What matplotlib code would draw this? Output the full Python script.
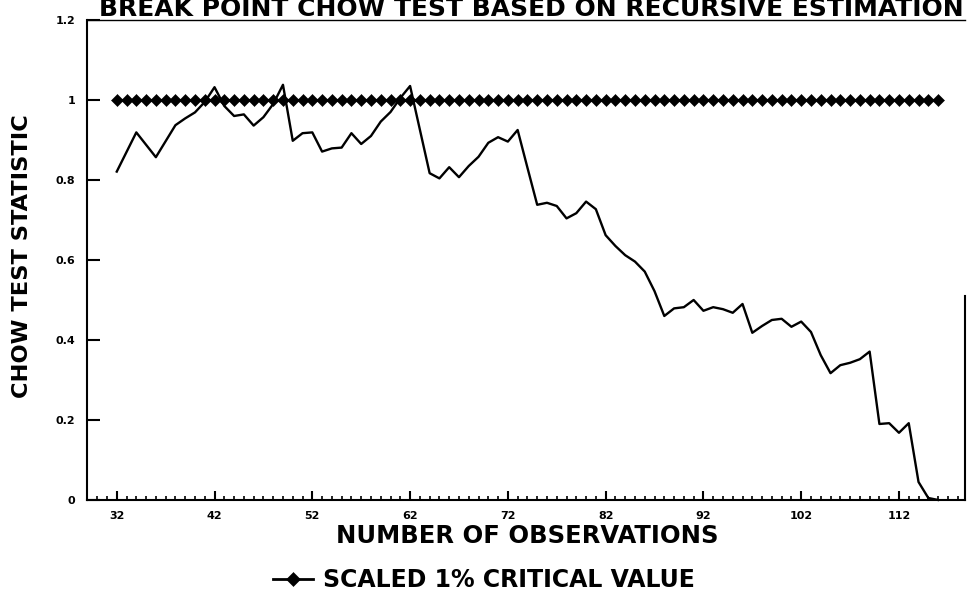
import numpy as np
import matplotlib
matplotlib.use("Agg")
import matplotlib.pyplot as plt
from matplotlib.ticker import MultipleLocator

# data
obs = np.arange(32, 117)
chow_stat = [
    0.821, 0.870, 0.919, 0.888, 0.857, 0.897, 0.937, 0.954, 0.969, 0.995,
    1.032, 0.985, 0.960, 0.964, 0.936, 0.957, 0.990, 1.038, 0.898, 0.917,
    0.919, 0.871, 0.879, 0.881, 0.917, 0.890, 0.910, 0.946, 0.970, 1.005,
    1.035, 0.926, 0.817, 0.804, 0.832, 0.807, 0.835, 0.858, 0.893, 0.907,
    0.896, 0.925, 0.831, 0.738, 0.743, 0.735, 0.704, 0.717, 0.746, 0.727,
    0.662, 0.635, 0.612, 0.596, 0.571, 0.522, 0.460, 0.479, 0.482, 0.500,
    0.473, 0.482, 0.477, 0.468, 0.490, 0.418, 0.435, 0.450, 0.453, 0.433,
    0.446, 0.420, 0.362, 0.317, 0.337, 0.343, 0.352, 0.371, 0.190, 0.192,
    0.168, 0.192, 0.045, 0.005, 0.000,
]
critical_value = [1.0] * len(obs)

x_ticks = [32, 42, 52, 62, 72, 82, 92, 102, 112]
y_ticks = [0, 0.2, 0.4, 0.6, 0.8, 1.0, 1.2]
y_tick_labels = ["0", "0.2", "0.4", "0.6", "0.8", "1", "1.2"]

TITLE = "BREAK POINT CHOW TEST BASED ON RECURSIVE ESTIMATION"
XLABEL = "NUMBER OF OBSERVATIONS"
YLABEL = "CHOW TEST STATISTIC"
LEGEND_LABEL = "SCALED 1% CRITICAL VALUE"

plt.rcParams["font.family"] = ["DejaVu Sans"]
plt.rcParams["font.weight"] = "bold"
plt.rcParams["axes.labelweight"] = "bold"

fig = plt.figure(figsize=(9.67, 5.95), dpi=100)
ax = fig.add_axes([0.09, 0.1597, 0.908, 0.8067])

# critical value line with diamonds
crit_line, = ax.plot(obs, critical_value, color="black", lw=2,
                     marker="D", markersize=5.8, markeredgewidth=0.4,
                     label=LEGEND_LABEL, clip_on=False)
ax.plot(obs, chow_stat, color="black", lw=1.7, clip_on=False)

ax.set_xlim(28.96, 118.76)
ax.set_ylim(0, 1.2)

ax.set_xticks(x_ticks)
ax.set_xticklabels([str(t) for t in x_ticks])
ax.xaxis.set_minor_locator(MultipleLocator(1))
ax.set_yticks(y_ticks)
ax.set_yticklabels(y_tick_labels)

ax.tick_params(axis="x", which="major", direction="in", length=6.5,
               width=1.5, pad=8, labelsize=8)
ax.tick_params(axis="x", which="minor", direction="in", length=3,
               width=1.2)
ax.tick_params(axis="y", which="major", direction="in", length=9.4,
               width=1.5, pad=8.6, labelsize=8)

for side in ["left", "bottom", "top", "right"]:
    ax.spines[side].set_linewidth(1.5)
ax.spines["top"].set_linewidth(1.0)
ax.spines["right"].set_bounds(0, 0.51)

ax.set_xlabel(XLABEL, fontsize=17.5)
ax.xaxis.label.set_va("baseline")
ax.xaxis.set_label_coords(0.501, -0.090)

ax.set_ylabel(YLABEL, fontsize=16.2)
ax.yaxis.label.set_va("center")
ax.yaxis.set_label_coords(-0.074, 0.508)

# title sits right at the top edge of the scan
fig.text(98.7 / 967, 1 - 16 / 595, TITLE, fontsize=18, ha="left",
         va="baseline")

leg = fig.legend(handles=[crit_line], loc="center left",
                 bbox_to_anchor=(273 / 967, 1 - 580 / 595),
                 frameon=False, fontsize=17, handlelength=1.7,
                 handletextpad=0.4, borderpad=0, borderaxespad=0,
                 markerscale=1.3)

fig.savefig("out.png", dpi=100)
